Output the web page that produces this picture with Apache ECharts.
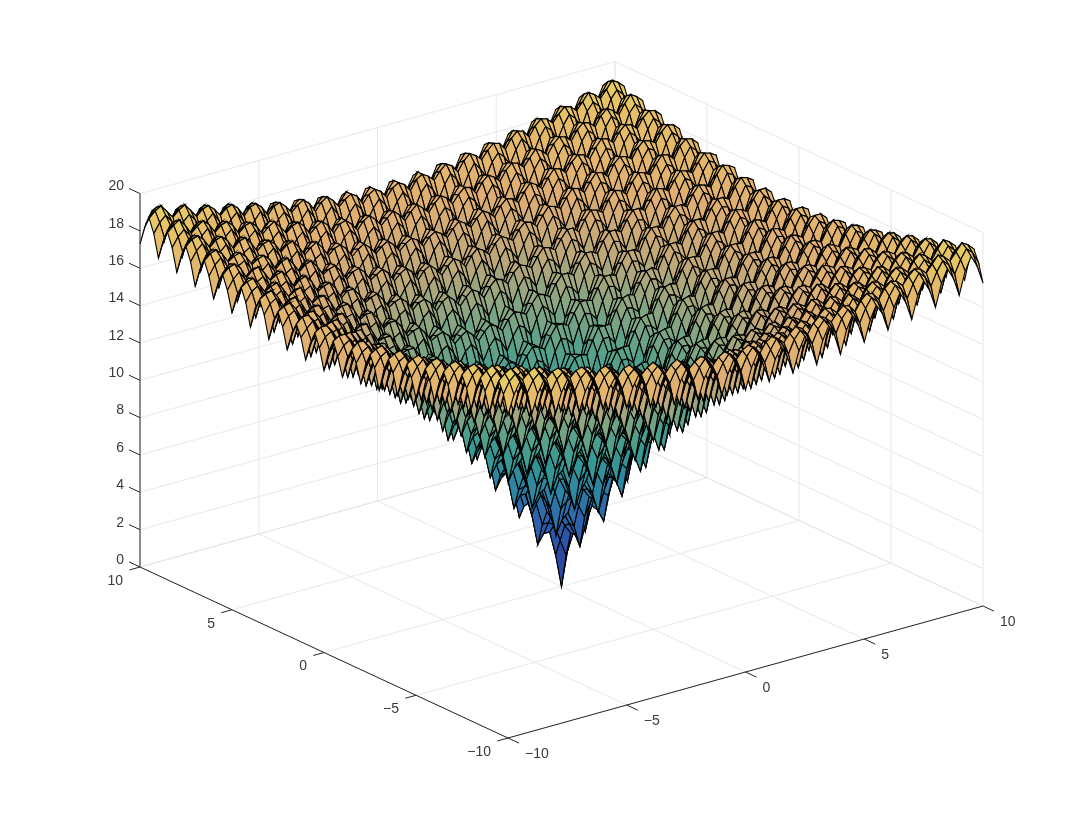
<!DOCTYPE html>
<html><head><meta charset="utf-8"><style>html,body{margin:0;padding:0;background:#fff}#c{width:1087px;height:829px}</style>
<script src="https://cdn.jsdelivr.net/npm/echarts@6/dist/echarts.min.js"></script></head><body><div id="c"></div>
<script>
const quarterSteps=[0,.25,.5,.75,1,1.25,1.5,1.75,2,2.25,2.5,2.75,3,3.25,3.5,3.75,4,4.25,4.5,4.75,5,5.25,5.5,5.75,6,6.25,6.5,6.75,7,7.25,7.5,7.75,8,8.25,8.5,8.75,9,9.25,9.5,9.75,10];
const xTicks=[-10,-5,0,5,10];
const yTicks=[-10,-5,0,5,10];
const zTicks=[0,2,4,6,8,10,12,14,16,18,20];
// Heights read for one symmetric wedge of the surface: row n holds positions n..40 of quarterSteps.
const heightRows=[
[0,1.8,3.1,3.1,2.6,4.3,5.5,5.5,4.9,6.5,7.7,7.5,6.9,8.4,9.5,9.3,8.6,10.1,11.1,10.9,10.1,11.6,12.5,12.2,11.4,12.8,13.7,13.4,12.6,13.9,14.8,14.4,13.6,14.8,15.7,15.3,14.4,15.7,16.5,16,15.1],
[2.7,3.6,3.8,3.8,5,6,6.1,6,7.2,8.1,8.2,8,9.1,9.9,10,9.7,10.8,11.5,11.5,11.2,12.2,12.9,12.9,12.5,13.5,14.1,14,13.6,14.6,15.2,15,14.6,15.5,16.1,15.9,15.5,16.3,16.9,16.7,16.2],
[4.2,4.5,4.6,5.6,6.3,6.6,6.8,7.7,8.4,8.6,8.7,9.5,10.2,10.4,10.4,11.2,11.8,11.9,11.9,12.6,13.2,13.3,13.2,13.9,14.4,14.4,14.3,15,15.4,15.4,15.3,15.9,16.4,16.3,16.1,16.7,17.1,17.1,16.9],
[4.5,4.3,5.4,6.3,6.4,6.3,7.4,8.3,8.4,8.1,9.2,10.1,10.1,9.8,10.9,11.6,11.6,11.3,12.3,13,12.9,12.6,13.5,14.2,14.1,13.7,14.6,15.2,15.1,14.7,15.5,16.1,16,15.5,16.3,16.9,16.7,16.2],
[3.6,5.1,6.2,6,5.4,7,8.1,7.8,7.2,8.7,9.8,9.5,8.8,10.3,11.3,11,10.3,11.7,12.6,12.3,11.5,12.9,13.8,13.4,12.6,14,14.9,14.5,13.6,14.9,15.8,15.3,14.4,15.7,16.5,16.1,15.2],
[6.1,6.9,7,6.7,7.8,8.6,8.7,8.4,9.5,10.3,10.3,10,11,11.8,11.7,11.4,12.4,13.1,13,12.7,13.6,14.3,14.1,13.8,14.7,15.3,15.1,14.7,15.6,16.2,16,15.5,16.4,17,16.7,16.3],
[7.5,7.7,7.7,8.5,9.1,9.3,9.3,10.1,10.7,10.8,10.8,11.5,12.1,12.2,12.2,12.9,13.4,13.5,13.4,14.1,14.6,14.6,14.5,15.1,15.6,15.6,15.4,16,16.5,16.4,16.2,16.8,17.2,17.2,16.9],
[7.6,7.4,8.4,9.1,9.1,8.8,9.9,10.6,10.6,10.3,11.3,12,11.9,11.6,12.6,13.3,13.2,12.8,13.7,14.4,14.3,13.9,14.8,15.4,15.2,14.8,15.7,16.3,16.1,15.6,16.4,17,16.8,16.3],
[6.6,8,9,8.7,8,9.4,10.4,10.1,9.4,10.8,11.8,11.4,10.7,12,13,12.6,11.8,13.2,14.1,13.7,12.9,14.2,15.1,14.6,13.8,15.1,15.9,15.5,14.6,15.8,16.7,16.2,15.3],
[9,9.7,9.6,9.3,10.3,11,11,10.6,11.6,12.3,12.2,11.9,12.8,13.5,13.4,13,13.9,14.6,14.4,14,14.9,15.5,15.3,14.9,15.8,16.3,16.2,15.7,16.5,17.1,16.9,16.4],
[10.2,10.3,10.2,10.9,11.5,11.5,11.5,12.2,12.7,12.8,12.7,13.3,13.8,13.9,13.7,14.4,14.9,14.9,14.7,15.4,15.8,15.8,15.6,16.2,16.6,16.6,16.4,17,17.4,17.3,17.1],
[10.2,9.8,10.8,11.5,11.4,11,11.9,12.6,12.5,12.1,13.1,13.7,13.6,13.2,14.1,14.7,14.6,14.2,15,15.6,15.5,15,15.9,16.5,16.3,15.8,16.6,17.2,17,16.5],
[9,10.4,11.3,10.9,10.1,11.5,12.4,12,11.2,12.6,13.5,13.1,12.3,13.6,14.5,14,13.2,14.5,15.3,14.9,14,15.3,16.1,15.7,14.8,16,16.8,16.4,15.4],
[11.3,11.9,11.8,11.4,12.3,13,12.9,12.5,13.4,14,13.9,13.5,14.3,15,14.8,14.4,15.2,15.8,15.6,15.2,16,16.6,16.4,15.9,16.7,17.3,17.1,16.6],
[12.4,12.4,12.3,12.9,13.4,13.4,13.3,13.9,14.4,14.4,14.2,14.9,15.3,15.3,15.1,15.7,16.1,16.1,15.9,16.5,16.9,16.8,16.6,17.2,17.6,17.5,17.3],
[12.3,11.9,12.7,13.4,13.2,12.8,13.7,14.3,14.1,13.7,14.6,15.2,15,14.6,15.4,16,15.8,15.3,16.2,16.7,16.5,16,16.8,17.4,17.2,16.7],
[11,12.3,13.2,12.8,11.9,13.2,14.1,13.6,12.8,14.1,14.9,14.5,13.6,14.9,15.7,15.3,14.4,15.6,16.4,15.9,15,16.3,17.1,16.6,15.6],
[13.2,13.8,13.6,13.2,14,14.6,14.5,14,14.9,15.4,15.3,14.8,15.6,16.2,16,15.5,16.3,16.9,16.7,16.2,17,17.5,17.3,16.8],
[14.2,14.2,14,14.6,15,15,14.8,15.4,15.8,15.8,15.6,16.1,16.6,16.5,16.3,16.8,17.2,17.1,16.9,17.4,17.8,17.7,17.5],
[14,13.5,14.4,15,14.8,14.3,15.1,15.7,15.5,15,15.9,16.4,16.2,15.7,16.5,17.1,16.8,16.3,17.1,17.7,17.4,16.9],
[12.6,13.9,14.7,14.3,13.4,14.6,15.5,15,14.1,15.3,16.1,15.6,14.7,16,16.8,16.3,15.3,16.6,17.3,16.8,15.9],
[14.7,15.3,15.1,14.6,15.4,16,15.8,15.3,16.1,16.6,16.4,15.9,16.7,17.2,17,16.5,17.3,17.8,17.5,17],
[15.7,15.6,15.4,16,16.4,16.3,16,16.6,17,16.9,16.7,17.2,17.6,17.5,17.2,17.8,18.1,18,17.7],
[15.4,14.9,15.7,16.3,16,15.5,16.3,16.9,16.6,16.1,16.9,17.4,17.2,16.7,17.4,18,17.7,17.2],
[14,15.2,16,15.5,14.6,15.8,16.6,16.1,15.1,16.4,17.1,16.6,15.7,16.9,17.6,17.1,16.2],
[16,16.5,16.3,15.8,16.6,17.1,16.8,16.3,17.1,17.6,17.4,16.8,17.6,18.1,17.8,17.3],
[16.9,16.8,16.5,17.1,17.4,17.3,17.1,17.6,17.9,17.8,17.6,18.1,18.4,18.3,18],
[16.5,16,16.8,17.3,17.1,16.5,17.3,17.8,17.5,17,17.8,18.3,18,17.4],
[15.1,16.3,17,16.5,15.6,16.7,17.5,17,16,17.2,18,17.4,16.4],
[17,17.5,17.3,16.7,17.5,18,17.7,17.2,17.9,18.4,18.1,17.6],
[17.9,17.8,17.5,18,18.3,18.2,17.9,18.4,18.7,18.6,18.3],
[17.5,16.9,17.7,18.2,17.9,17.3,18.1,18.6,18.3,17.7],
[16,17.1,17.9,17.3,16.4,17.5,18.3,17.7,16.7],
[17.9,18.4,18.1,17.5,18.3,18.7,18.4,17.9],
[18.7,18.5,18.2,18.7,19.1,18.9,18.6],
[18.2,17.7,18.4,18.9,18.6,18],
[16.7,17.8,18.6,18,17],
[18.6,19,18.7,18.2],
[19.4,19.2,18.9],
[18.9,18.3],
[17.3]
];
const colorLevels=[0,2,4,6,8,10,12,14,16,18,20];
const colorValues=['#2a3a8e','#2b4ea8','#2d62ac','#2c82a4','#339695','#4fa08c','#85a582','#bfa878','#e0ae72','#e6bc68','#e6dc5e'];

const origin={px:508,py:738}, xStep={px:23.75,py:-6.6}, yStep={px:-18.4,py:-8.55}, zUnit=18.67;
function project(x,y,z){return [origin.px+(x+10)*xStep.px+(y+10)*yStep.px, origin.py+(x+10)*xStep.py+(y+10)*yStep.py-z*zUnit];}
function heightAt(i,j){const a=Math.abs(i),b=Math.abs(j),lo=Math.min(a,b),hi=Math.max(a,b);return heightRows[lo][hi-lo];}
function gridPos(i){return i<0?-quarterSteps[-i]:quarterSteps[i];}
function colorFor(z){
  let k=0;while(k<colorLevels.length-2&&z>colorLevels[k+1])k++;
  const t=(z-colorLevels[k])/(colorLevels[k+1]-colorLevels[k]);
  const a=echarts.color.parse(colorValues[k]),b=echarts.color.parse(colorValues[k+1]);
  return 'rgb('+[0,1,2].map(n=>Math.round(a[n]+(b[n]-a[n])*t)).join(',')+')';
}
const cells=[];
for(let i=39;i>=-40;i--)for(let j=39;j>=-40;j--)cells.push([i,j]);

const segs=[];
function seg(a,b,color,w){segs.push({a,b,color,w});}
const LIGHT='#e2e2e2',DARK='#262626';
xTicks.forEach(x=>{seg([x,10,0],[x,10,20],LIGHT,0.8);seg([x,-10,0],[x,10,0],LIGHT,0.8);});
yTicks.forEach(y=>{seg([10,y,0],[10,y,20],LIGHT,0.8);seg([-10,y,0],[10,y,0],LIGHT,0.8);});
zTicks.forEach(z=>{seg([-10,10,z],[10,10,z],LIGHT,0.8);seg([10,10,z],[10,-10,z],LIGHT,0.8);});
const axisSegs=[];
axisSegs.push({a:[-10,10,0],b:[-10,10,20]},{a:[-10,-10,0],b:[-10,10,0]},{a:[-10,-10,0],b:[10,-10,0]});
zTicks.forEach(z=>axisSegs.push({a:[-10,10,z],b:[-10,10.6,z]}));
xTicks.forEach(x=>axisSegs.push({a:[x,-10,0],b:[x,-10.6,0]}));
yTicks.forEach(y=>axisSegs.push({a:[-10,y,0],b:[-10.45,y,0]}));

const labels=[];
const fmt=v=>String(v).replace('-','\u2212');
zTicks.forEach(z=>labels.push({p:[-10,10,z],t:fmt(z),dx:-16,dy:-7,align:'right'}));
xTicks.forEach(x=>labels.push({p:[x,-10,0],t:fmt(x),dx:17,dy:16,align:'left'}));
yTicks.forEach(y=>labels.push({p:[-10,y,0],t:fmt(y),dx:-17,dy:14,align:'right'}));

function lineItem(d,api,color,w){
  const p=api.coord(project.apply(null,d.a)),q=api.coord(project.apply(null,d.b));
  return {type:'line',shape:{x1:p[0],y1:p[1],x2:q[0],y2:q[1]},style:{stroke:color,lineWidth:w}};
}
const chart=echarts.init(document.getElementById('c'),null,{renderer:'canvas'});
chart.setOption({
  animation:false,backgroundColor:'#ffffff',
  grid:{left:0,right:0,top:0,bottom:0},
  xAxis:{type:'value',min:0,max:1087,show:false},
  yAxis:{type:'value',min:0,max:829,inverse:true,show:false},
  tooltip:{show:false},
  series:[
   {type:'custom',silent:true,clip:false,coordinateSystem:'cartesian2d',z:1,data:segs.map((s,n)=>[n,0]),
    renderItem:(p,api)=>{const s=segs[p.dataIndex];return lineItem(s,api,s.color,s.w);}},
   {type:'custom',silent:true,clip:false,coordinateSystem:'cartesian2d',z:2,progressive:0,data:cells,
    renderItem:(p,api)=>{
      const [i,j]=cells[p.dataIndex];
      const c=[[i,j],[i+1,j],[i+1,j+1],[i,j+1]];
      let sum=0;
      const pts=c.map(q=>{const z=heightAt(q[0],q[1]);sum+=z;return api.coord(project(gridPos(q[0]),gridPos(q[1]),z));});
      return {type:'polygon',shape:{points:pts},style:{fill:colorFor(sum/4),stroke:'#000000',lineWidth:1.1}};
    }},
   {type:'custom',silent:true,clip:false,coordinateSystem:'cartesian2d',z:3,data:axisSegs.map((s,n)=>[n,0]),
    renderItem:(p,api)=>lineItem(axisSegs[p.dataIndex],api,DARK,1)},
   {type:'custom',silent:true,clip:false,coordinateSystem:'cartesian2d',z:4,data:labels.map((s,n)=>[n,0]),
    renderItem:(p,api)=>{const l=labels[p.dataIndex];const q=api.coord(project.apply(null,l.p));
      return {type:'text',x:q[0]+l.dx,y:q[1]+l.dy,style:{text:l.t,fill:'#3a3a3a',font:'14px "Liberation Sans"',align:l.align,verticalAlign:'middle'}};}}
  ]
});
</script></body></html>
